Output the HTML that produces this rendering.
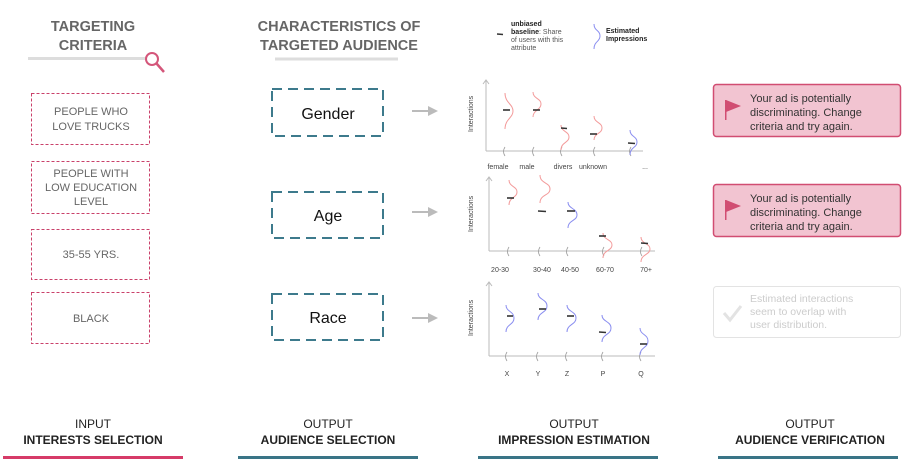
<!DOCTYPE html>
<html><head><meta charset="utf-8"><style>
html,body{margin:0;padding:0;background:#fff;}
svg{display:block;font-family:"Liberation Sans","DejaVu Sans",sans-serif;}
</style></head><body>
<svg width="903" height="462" viewBox="0 0 903 462" xmlns="http://www.w3.org/2000/svg">
<!-- headers -->
<g fill="#666" font-weight="bold" font-size="14.5" text-anchor="middle">
<text x="93" y="31">TARGETING</text><text x="93" y="50">CRITERIA</text>
<text x="339" y="31">CHARACTERISTICS OF</text><text x="339" y="50">TARGETED AUDIENCE</text>
</g>
<line x1="28" y1="58.5" x2="146" y2="58.5" stroke="#ddd" stroke-width="3"/>
<line x1="275" y1="59" x2="398" y2="59" stroke="#ddd" stroke-width="3"/>
<circle cx="152" cy="59" r="6" fill="none" stroke="#d4567a" stroke-width="2"/>
<line x1="156.5" y1="63.5" x2="164" y2="72" stroke="#d4567a" stroke-width="2.5"/>
<!-- pink dashed boxes -->
<g fill="none" stroke="#c9406a" stroke-width="1" stroke-dasharray="3,2">
<rect x="31.5" y="93.5" width="118" height="51"/>
<rect x="31.5" y="161.5" width="118" height="52"/>
<rect x="31.5" y="229.5" width="118" height="50"/>
<rect x="31.5" y="292.5" width="118" height="51"/>
</g>
<g fill="#666" font-size="11" text-anchor="middle">
<text x="91" y="115">PEOPLE WHO</text><text x="91" y="130">LOVE TRUCKS</text>
<text x="91" y="177">PEOPLE WITH</text><text x="91" y="191">LOW EDUCATION</text><text x="91" y="205">LEVEL</text>
<text x="91" y="258">35-55 YRS.</text>
<text x="91" y="322">BLACK</text>
</g>
<!-- teal dashed boxes -->
<g fill="none" stroke="#3d7a8c" stroke-width="2" stroke-dasharray="10,6">
<rect x="272" y="89" width="111" height="47"/>
<rect x="272" y="192" width="111" height="46"/>
<rect x="272" y="294" width="111" height="46"/>
</g>
<g fill="#111" font-size="16" text-anchor="middle">
<text x="328" y="119">Gender</text><text x="328" y="221">Age</text><text x="328" y="323">Race</text>
</g>
<!-- arrows -->
<g stroke="#bbb" stroke-width="2" fill="#bbb">
<line x1="412" y1="111" x2="430" y2="111"/><path d="M428,106 L438,111 L428,116Z" stroke="none"/>
<line x1="412" y1="212" x2="430" y2="212"/><path d="M428,207 L438,212 L428,217Z" stroke="none"/>
<line x1="412" y1="318" x2="430" y2="318"/><path d="M428,313 L438,318 L428,323Z" stroke="none"/>
</g>
<!-- legend -->
<line x1="497" y1="34" x2="503" y2="34.5" stroke="#333" stroke-width="1.5"/>
<g font-size="7" fill="#555">
<text x="511" y="26"><tspan font-weight="bold" fill="#222">unbiased</tspan></text>
<text x="511" y="34"><tspan font-weight="bold" fill="#222">baseline</tspan>: Share</text>
<text x="511" y="42">of users with this</text>
<text x="511" y="50">attribute</text>
<text x="606" y="33" font-weight="bold" fill="#222">Estimated</text>
<text x="606" y="41" font-weight="bold" fill="#222">Impressions</text>
</g>
<path d="M594,24 C594,31 600,30 600,36 C600,42 594,41 594,49" fill="none" stroke="#8a8ef0" stroke-width="1"/>
<!-- axes -->
<g stroke="#bbb" stroke-width="1" fill="none">
<path d="M486,151 L486,80 M483,84 L486,80 L489,84 M486,151 L643,151"/>
<path d="M489,251 L489,177 M486,181 L489,177 L492,181 M489,251 L655,251"/>
<path d="M489,356 L489,282 M486,286 L489,282 L492,286 M489,356 L655,356"/>
</g>
<g font-size="7" fill="#444">
<text transform="translate(473,132) rotate(-90)">Interactions</text>
<text transform="translate(473,232) rotate(-90)">Interactions</text>
<text transform="translate(473,336) rotate(-90)">Interactions</text>
</g>
<g font-size="7" fill="#444" text-anchor="middle">
<text x="498" y="169">female</text><text x="527" y="169">male</text><text x="563" y="169">divers</text><text x="593" y="169">unknown</text><text x="645" y="169">...</text>
<text x="500" y="272">20-30</text><text x="542" y="272">30-40</text><text x="570" y="272">40-50</text><text x="605" y="272">60-70</text><text x="646" y="272">70+</text>
<text x="507" y="376">X</text><text x="538" y="376">Y</text><text x="567" y="376">Z</text><text x="603" y="376">P</text><text x="641" y="376">Q</text>
</g>
<!-- small tick marks -->
<g stroke="#999" stroke-width="0.8" fill="none">
<path d="M505,147 C503,150 503,153 505,156 M534,147 C532,150 532,153 534,156 M562,147 C560,150 560,153 562,156 M595,147 C593,150 593,153 595,156 M631,147 C629,150 629,153 631,156"/>
<path d="M509,247 C507,250 507,253 509,256 M540,247 C538,250 538,253 540,256 M568,247 C566,250 566,253 568,256 M604,247 C602,250 602,253 604,256 M642,247 C640,250 640,253 642,256"/>
<path d="M507,352 C505,355 505,358 507,361 M538,352 C536,355 536,358 538,361 M567,352 C565,355 565,358 567,361 M603,352 C601,355 601,358 603,361 M641,352 C639,355 639,358 641,361"/>
</g>
<!-- red curves -->
<g fill="none" stroke="#f39a9a" stroke-width="1">
<path d="M505,93 C505,103 513,104 513,111 C513,118 505,119 505,129"/>
<path d="M533,92 C533,99 541,98 541,104 C541,110 533,110 533,117"/>
<path d="M561,125 C561,132 569,131 569,137 C569,143 561,142 561,150"/>
<path d="M594,116 C594,123 602,122 602,128 C602,134 594,133 594,140"/>
<path d="M509,180 C509,187 517,186 517,192 C517,198 509,197 509,205"/>
<path d="M540,175 C540,184 550,182 550,189 C550,196 540,194 540,203"/>
<path d="M603,233 C603,240 612,239 612,245 C612,251 603,250 603,258"/>
<path d="M641,237 C641,244 650,243 650,249 C650,255 641,254 641,262"/>
</g>
<!-- blue curves -->
<g fill="none" stroke="#8a8ef0" stroke-width="1">
<path d="M630,130 C630,137 637,136 637,142 C637,148 630,147 630,155"/>
<path d="M568,202 C568,209 577,208 577,215 C577,221 568,220 568,228"/>
<path d="M506,305 C506,312 514,311 514,318 C514,325 506,324 506,332"/>
<path d="M538,293 C538,300 547,299 547,306 C547,313 538,312 538,320"/>
<path d="M567,305 C567,312 576,311 576,318 C576,325 567,324 567,332"/>
<path d="M602,315 C602,322 611,321 611,328 C611,335 602,334 602,342"/>
<path d="M640,328 C640,335 648,334 648,341 C648,348 640,347 640,355"/>
</g>
<!-- baselines -->
<g stroke="#333" stroke-width="1.6">
<line x1="503" y1="110" x2="510" y2="110"/><line x1="533" y1="110" x2="540" y2="110"/><line x1="561" y1="128" x2="567" y2="128.5"/><line x1="590" y1="134" x2="597" y2="134"/><line x1="628" y1="143" x2="635" y2="143.5"/>
<line x1="507" y1="198" x2="514" y2="198"/><line x1="538" y1="211" x2="546" y2="211.5"/><line x1="567" y1="211" x2="575" y2="211"/><line x1="599" y1="236" x2="606" y2="236"/><line x1="641" y1="243" x2="648" y2="243.5"/>
<line x1="507" y1="316" x2="513" y2="316"/><line x1="539" y1="309" x2="546" y2="309"/><line x1="567" y1="316" x2="574" y2="316"/><line x1="599" y1="332" x2="606" y2="332.5"/><line x1="640" y1="344" x2="647" y2="344"/>
</g>
<!-- right boxes -->
<rect x="713.5" y="84.5" width="187" height="52" rx="3" fill="#f2c4d1" stroke="#d14d72" stroke-width="1.5"/>
<rect x="713.5" y="184.5" width="187" height="52" rx="3" fill="#f2c4d1" stroke="#d14d72" stroke-width="1.5"/>
<rect x="713.5" y="286.5" width="187" height="51" rx="3" fill="#fff" stroke="#e3e3e3" stroke-width="1"/>
<g fill="#d14d72">
<rect x="725" y="100" width="1.5" height="20"/><path d="M726,100 L741,106 L726,112Z"/>
<rect x="725" y="200" width="1.5" height="20"/><path d="M726,200 L741,206 L726,212Z"/>
</g>
<path d="M724,313 L730,320 L741,306" fill="none" stroke="#e3e3e3" stroke-width="3"/>
<g font-size="11" fill="#333">
<text x="750" y="102">Your ad is potentially</text><text x="750" y="116">discriminating. Change</text><text x="750" y="130">criteria and try again.</text>
<text x="750" y="202">Your ad is potentially</text><text x="750" y="216">discriminating. Change</text><text x="750" y="230">criteria and try again.</text>
</g>
<g font-size="10.5" fill="#ccc">
<text x="750" y="302">Estimated interactions</text><text x="750" y="315">seem to overlap with</text><text x="750" y="328">user distribution.</text>
</g>
<!-- bottom -->
<g font-size="12" fill="#222" text-anchor="middle">
<text x="93" y="428">INPUT</text><text x="93" y="444" font-weight="bold">INTERESTS SELECTION</text>
<text x="328" y="428">OUTPUT</text><text x="328" y="444" font-weight="bold">AUDIENCE SELECTION</text>
<text x="574" y="428">OUTPUT</text><text x="574" y="444" font-weight="bold">IMPRESSION ESTIMATION</text>
<text x="810" y="428">OUTPUT</text><text x="810" y="444" font-weight="bold">AUDIENCE VERIFICATION</text>
</g>
<rect x="3" y="456" width="180" height="3" fill="#d63b68"/>
<rect x="238" y="456" width="180" height="3" fill="#3a7587"/>
<rect x="478" y="456" width="180" height="3" fill="#3a7587"/>
<rect x="718" y="456" width="180" height="3" fill="#3a7587"/>
</svg>
</body></html>
